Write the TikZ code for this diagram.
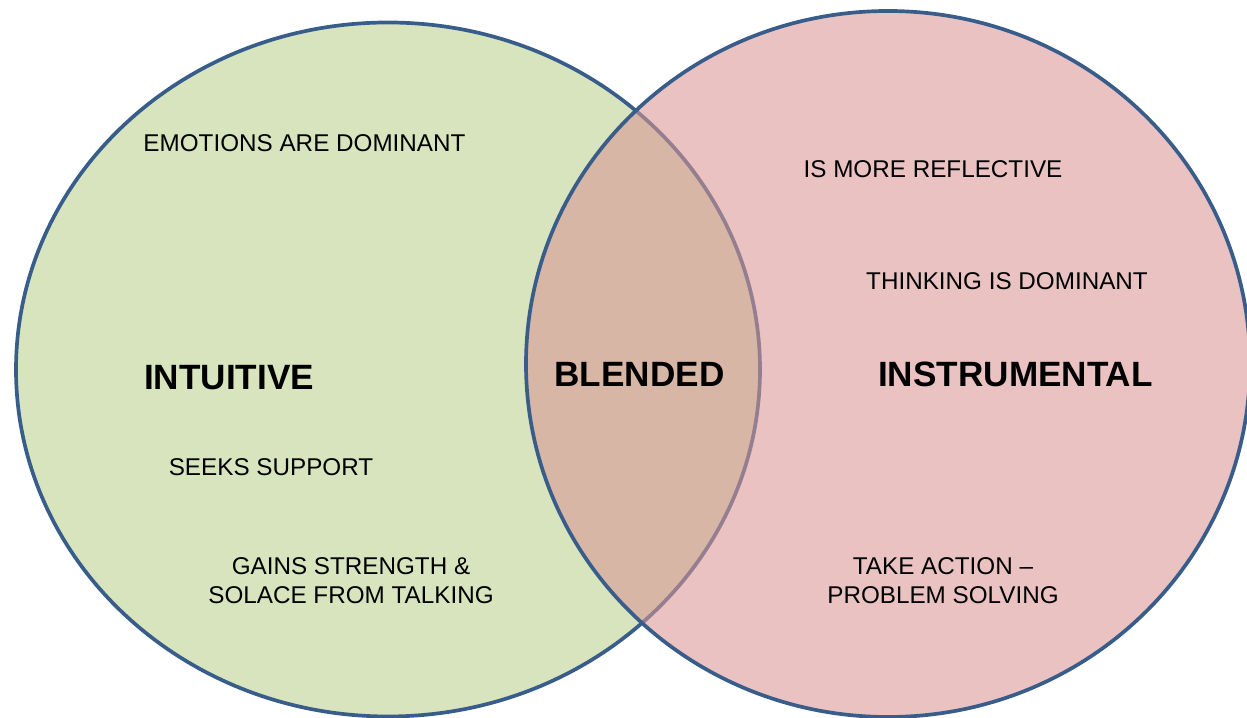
\documentclass[tikz,border=0pt]{standalone}
\usepackage{fontspec}
\setmainfont{Liberation Sans}
\definecolor{vennline}{RGB}{56,93,138}
\definecolor{venngreen}{RGB}{215,228,189}
\definecolor{vennpink}{RGB}{217,150,148}

\begin{document}
\begin{tikzpicture}[
	small/.style={font=\fontsize{13.8}{16.5}\selectfont, align=center, inner sep=0pt},
	big/.style={font=\fontsize{20}{24}\selectfont\bfseries, inner sep=0pt}]
			%%%%% START %%%%%
			
			\useasboundingbox (0, 0) rectangle (24.94, 14.36);
			
			\draw[line width=2.1pt, color=vennline, fill=venngreen] (7.76, 6.97) ellipse (7.44 and 6.94);
			\draw[line width=2.1pt, color=vennline, fill=vennpink, fill opacity=0.58] (17.76, 7.08) ellipse (7.24 and 7.06);
			
			\node[small] (emotions) at (6.09, 11.49) {EMOTIONS ARE DOMINANT};
			\node[big] (intuitive) at (4.58, 6.81) {INTUITIVE};
			\node[small] (seeks) at (5.42, 5.02) {SEEKS SUPPORT};
			\node[small] (gains) at (7.02, 2.74) {GAINS STRENGTH \&\\SOLACE FROM TALKING};
			
			\node[big] (blended) at (12.79, 6.87) {BLENDED};
			
			\node[small] (reflective) at (18.66, 10.98) {IS MORE REFLECTIVE};
			\node[small] (thinking) at (20.14, 8.74) {THINKING IS DOMINANT};
			\node[big] (instrumental) at (20.31, 6.87) {INSTRUMENTAL};
			\node[small] (action) at (18.86, 2.74) {TAKE ACTION --\\PROBLEM SOLVING};
			
			%%%%% END %%%%%
		\end{tikzpicture}
\end{document}
